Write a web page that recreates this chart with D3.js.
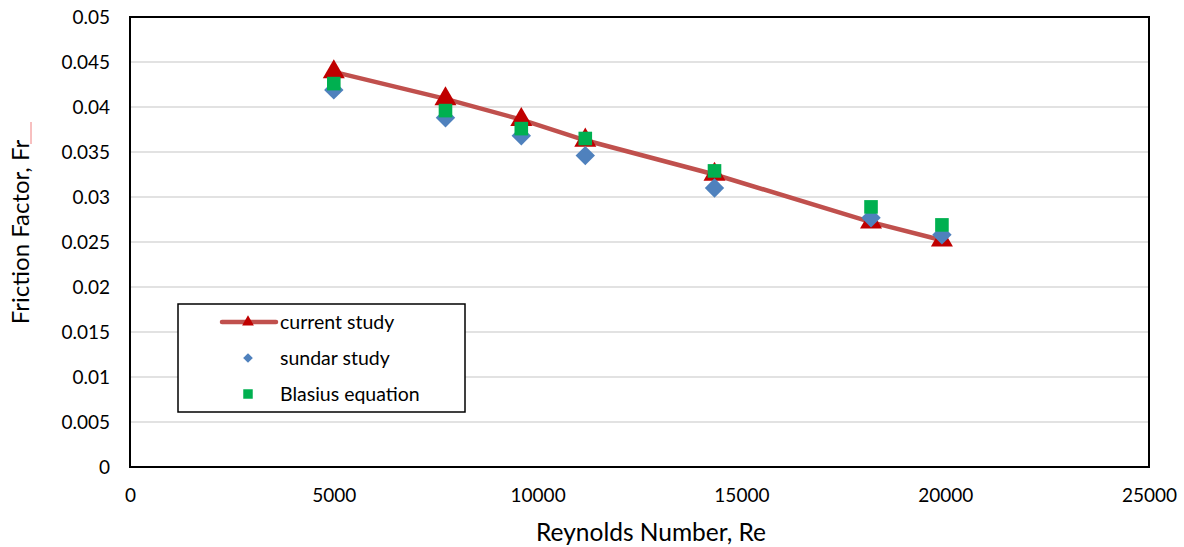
<!DOCTYPE html>
<html>
<head>
<meta charset="utf-8">
<script src="https://cdn.jsdelivr.net/npm/d3@7"></script>
<style>
  body { margin: 0; background: #fff; }
  svg { display: block; font-family: Lato, "Open Sans", sans-serif; }
</style>
</head>
<body>
<svg id="chart" width="1184" height="547"></svg>
<script>
// Reynolds numbers (shared by all three series)
const reynolds = [5000, 7740, 9600, 11170, 14340, 18180, 19920];
const currentStudy = [0.0439, 0.0409, 0.0386, 0.0363, 0.0325, 0.0272, 0.0252];
const sundarStudy = [0.0419, 0.0388, 0.0368, 0.0346, 0.0310, 0.0277, 0.0258];
const blasius = [0.0426, 0.0396, 0.0376, 0.0365, 0.0329, 0.0289, 0.0269];

const xTicks = [0, 5000, 10000, 15000, 20000, 25000];
const yTicks = [0, 0.005, 0.01, 0.015, 0.02, 0.025, 0.03, 0.035, 0.04, 0.045, 0.05];

const svg = d3.select('#chart');
const margin = { top: 17, right: 35, bottom: 80, left: 130 };
const width = 1184, height = 547;

const x = d3.scaleLinear().domain([0, 25000]).range([margin.left, width - margin.right]);
const y = d3.scaleLinear().domain([0, 0.05]).range([height - margin.bottom, margin.top]);

// gridlines
svg.append('g')
  .selectAll('line')
  .data(yTicks.slice(1, -1))
  .enter().append('line')
  .attr('x1', x(0)).attr('x2', x(25000))
  .attr('y1', d => y(d)).attr('y2', d => y(d))
  .attr('stroke', '#d9d9d9')
  .attr('stroke-width', 1.5);

// axes (labels only, frame drawn separately)
const xAxis = svg.append('g')
  .attr('transform', `translate(0,${y(0)})`)
  .call(d3.axisBottom(x).tickValues(xTicks).tickFormat(d3.format('d')).tickSize(0).tickPadding(22));
const yAxis = svg.append('g')
  .attr('transform', `translate(${x(0)},0)`)
  .call(d3.axisLeft(y).tickValues(yTicks).tickFormat(d => d === 0 ? '0' : String(+d.toFixed(3))).tickSize(0).tickPadding(20));
[xAxis, yAxis].forEach(a => {
  a.select('.domain').remove();
  a.selectAll('text').attr('font-size', 19).attr('fill', '#000').attr('font-family', 'Lato, sans-serif');
});

// plot frame
svg.append('rect')
  .attr('x', x(0)).attr('y', y(0.05))
  .attr('width', x(25000) - x(0)).attr('height', y(0) - y(0.05))
  .attr('fill', 'none')
  .attr('stroke', '#000')
  .attr('stroke-width', 2);

// current study line
const pts = reynolds.map((r, i) => ({ r, cur: currentStudy[i], sun: sundarStudy[i], bla: blasius[i] }));
svg.append('path')
  .datum(pts)
  .attr('fill', 'none')
  .attr('stroke', '#c0504d')
  .attr('stroke-width', 4.5)
  .attr('d', d3.line().x(d => x(d.r)).y(d => y(d.cur)));

const tri = d3.symbol().type(d3.symbolTriangle);
const dia = d3.symbol().type(d3.symbolDiamond2);
const sq = d3.symbol().type(d3.symbolSquare);

svg.append('g').selectAll('path')
  .data(pts).enter().append('path')
  .attr('transform', d => `translate(${x(d.r)},${y(d.cur)})`)
  .attr('d', tri.size(210))
  .attr('fill', '#c00000');

svg.append('g').selectAll('path')
  .data(pts).enter().append('path')
  .attr('transform', d => `translate(${x(d.r)},${y(d.sun)})`)
  .attr('d', dia.size(240))
  .attr('fill', '#4f81bd');

svg.append('g').selectAll('path')
  .data(pts).enter().append('path')
  .attr('transform', d => `translate(${x(d.r)},${y(d.bla)})`)
  .attr('d', sq.size(185))
  .attr('fill', '#00b050');

// axis titles
svg.append('text')
  .attr('x', 651)
  .attr('y', 541)
  .attr('text-anchor', 'middle')
  .attr('font-size', 24.5)
  .text('Reynolds Number, Re');

svg.append('text')
  .attr('transform', `translate(29,${232}) rotate(-90)`)
  .attr('text-anchor', 'middle')
  .attr('font-size', 24)
  .text('Friction Factor, Fr');
// spell-check underline under "Fr"
svg.append('line')
  .attr('x1', 31).attr('x2', 31)
  .attr('y1', 122).attr('y2', 144)
  .attr('stroke', '#f08080').attr('stroke-width', 1);

// legend
const legend = svg.append('g').attr('transform', 'translate(178,304)');
legend.append('rect')
  .attr('width', 287).attr('height', 108)
  .attr('fill', '#fff').attr('stroke', '#000').attr('stroke-width', 1.5);

const items = [
  { label: 'current study', sym: tri.size(60), color: '#c00000', line: true },
  { label: 'sundar study', sym: dia.size(60), color: '#4f81bd' },
  { label: 'Blasius equation', sym: sq.size(90), color: '#00b050' }
];
const row = legend.selectAll('g.item')
  .data(items).enter().append('g')
  .attr('transform', (d, i) => `translate(0,${18 + i * 36})`);
row.filter(d => d.line).append('line')
  .attr('x1', 44).attr('x2', 98)
  .attr('stroke', '#c0504d').attr('stroke-width', 4.5)
  .attr('stroke-linecap', 'round');
row.append('path')
  .attr('transform', 'translate(70,0)')
  .attr('d', d => d.sym())
  .attr('fill', d => d.color);
row.append('text')
  .attr('x', 102).attr('y', 7)
  .attr('font-size', 19.5)
  .text(d => d.label);
</script>
</body>
</html>
